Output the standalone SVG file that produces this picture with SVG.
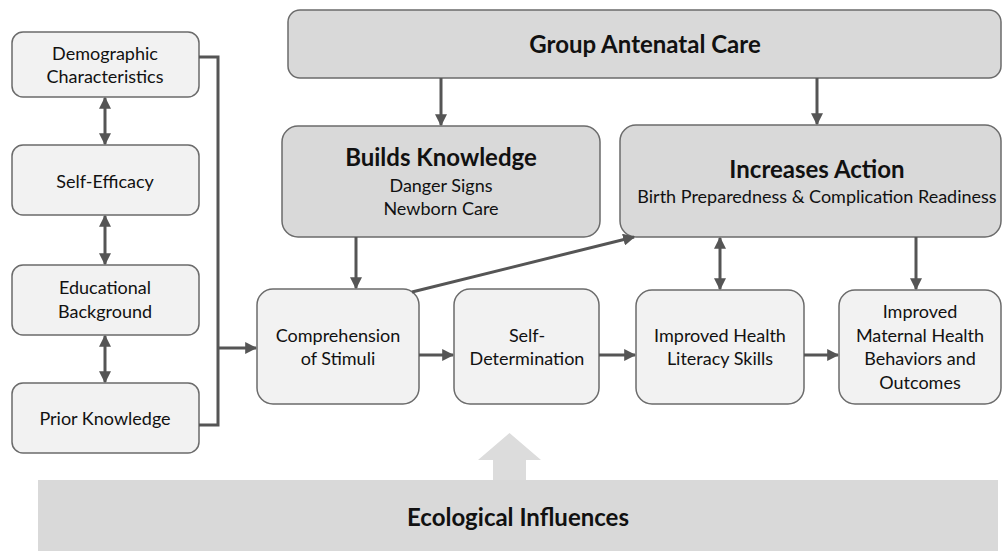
<svg xmlns="http://www.w3.org/2000/svg" width="1003" height="551" viewBox="0 0 1003 551">
  <style>
    .light { fill: #f2f2f2; stroke: #6b6b6b; stroke-width: 1.5; }
    .dark { fill: #d9d9d9; stroke: #6b6b6b; stroke-width: 1.5; }
    .t { font-family: Lato, "Open Sans", sans-serif; fill: #111111; text-anchor: middle; }
    .s { font-size: 18px; }
    .b { font-weight: bold; font-size: 24px; }
    .conn { fill: none; stroke: #555555; stroke-width: 3; }
  </style>
  <defs>
    <marker id="arr" viewBox="0 0 10 10" refX="9" refY="5" markerWidth="4" markerHeight="4" orient="auto-start-reverse" markerUnits="strokeWidth">
      <path d="M0,0 L10,5 L0,10 z" fill="#555555"/>
    </marker>
  </defs>
  <rect width="1003" height="551" fill="#ffffff"/>

  <!-- ecological band with upward block arrow -->
  <g id="ecological">
    <rect x="38" y="480" width="960" height="71" fill="#d9d9d9"/>
    <path d="M493,480 L493,460 L478,460 L509.5,433 L541,460 L526,460 L526,480 z" fill="#dcdcdc"/>
    <text class="t b" x="518" y="526">Ecological Influences</text>
  </g>

  <!-- left column -->
  <g id="demographic">
    <rect class="light" x="12" y="32" width="187" height="65" rx="11"/>
    <text class="t s" x="105" y="60">Demographic</text>
    <text class="t s" x="105" y="83">Characteristics</text>
  </g>
  <g id="self-efficacy">
    <rect class="light" x="12" y="145" width="187" height="70" rx="11"/>
    <text class="t s" x="105" y="188">Self-Efficacy</text>
  </g>
  <g id="educational">
    <rect class="light" x="12" y="265" width="187" height="70" rx="11"/>
    <text class="t s" x="105" y="294">Educational</text>
    <text class="t s" x="105" y="318">Background</text>
  </g>
  <g id="prior-knowledge">
    <rect class="light" x="12" y="383" width="187" height="70" rx="11"/>
    <text class="t s" x="105" y="425">Prior Knowledge</text>
  </g>

  <!-- top -->
  <g id="group-antenatal">
    <rect class="dark" x="288" y="10" width="713" height="68" rx="12"/>
    <text class="t b" x="645" y="53">Group Antenatal Care</text>
  </g>
  <g id="builds-knowledge">
    <rect class="dark" x="282" y="126" width="318" height="111" rx="16"/>
    <text class="t b" x="441" y="166">Builds Knowledge</text>
    <text class="t s" x="441" y="192">Danger Signs</text>
    <text class="t s" x="441" y="215">Newborn Care</text>
  </g>
  <g id="increases-action">
    <rect class="dark" x="620" y="125" width="381" height="112" rx="16"/>
    <text class="t b" x="817" y="178">Increases Action</text>
    <text class="t s" x="817" y="203">Birth Preparedness &amp; Complication Readiness</text>
  </g>

  <!-- bottom row -->
  <g id="comprehension">
    <rect class="light" x="257" y="289" width="162" height="115" rx="16"/>
    <text class="t s" x="338" y="342">Comprehension</text>
    <text class="t s" x="338" y="365">of Stimuli</text>
  </g>
  <g id="self-determination">
    <rect class="light" x="454" y="289" width="145" height="115" rx="16"/>
    <text class="t s" x="527" y="342">Self-</text>
    <text class="t s" x="527" y="365">Determination</text>
  </g>
  <g id="health-literacy">
    <rect class="light" x="636" y="290" width="168" height="114" rx="16"/>
    <text class="t s" x="720" y="342">Improved Health</text>
    <text class="t s" x="720" y="365">Literacy Skills</text>
  </g>
  <g id="maternal-outcomes">
    <rect class="light" x="839" y="290" width="162" height="114" rx="16"/>
    <text class="t s" x="920" y="318">Improved</text>
    <text class="t s" x="920" y="342">Maternal Health</text>
    <text class="t s" x="920" y="365">Behaviors and</text>
    <text class="t s" x="920" y="389">Outcomes</text>
  </g>

  <g id="connectors" class="conn">
    <!-- left column links -->
    <line x1="105" y1="98" x2="105" y2="144" marker-start="url(#arr)" marker-end="url(#arr)"/>
    <line x1="105" y1="216" x2="105" y2="264" marker-start="url(#arr)" marker-end="url(#arr)"/>
    <line x1="105" y1="336" x2="105" y2="382" marker-start="url(#arr)" marker-end="url(#arr)"/>
    <!-- bracket into comprehension -->
    <polyline points="199,57 218,57 218,425 199,425"/>
    <line x1="218" y1="348" x2="256" y2="348" marker-end="url(#arr)"/>
    <!-- from group antenatal care -->
    <line x1="441" y1="78" x2="441" y2="125" marker-end="url(#arr)"/>
    <line x1="817" y1="78" x2="817" y2="124" marker-end="url(#arr)"/>
    <!-- knowledge to comprehension -->
    <line x1="356" y1="237" x2="356" y2="288" marker-end="url(#arr)"/>
    <!-- comprehension to action -->
    <line x1="412" y1="292" x2="634" y2="237" marker-end="url(#arr)"/>
    <!-- bottom chain -->
    <line x1="419" y1="355" x2="453" y2="355" marker-end="url(#arr)"/>
    <line x1="599" y1="355" x2="635" y2="355" marker-end="url(#arr)"/>
    <line x1="804" y1="355" x2="838" y2="355" marker-end="url(#arr)"/>
    <!-- action links -->
    <line x1="720" y1="238" x2="720" y2="289" marker-start="url(#arr)" marker-end="url(#arr)"/>
    <line x1="916" y1="237" x2="916" y2="289" marker-end="url(#arr)"/>
  </g>
</svg>
